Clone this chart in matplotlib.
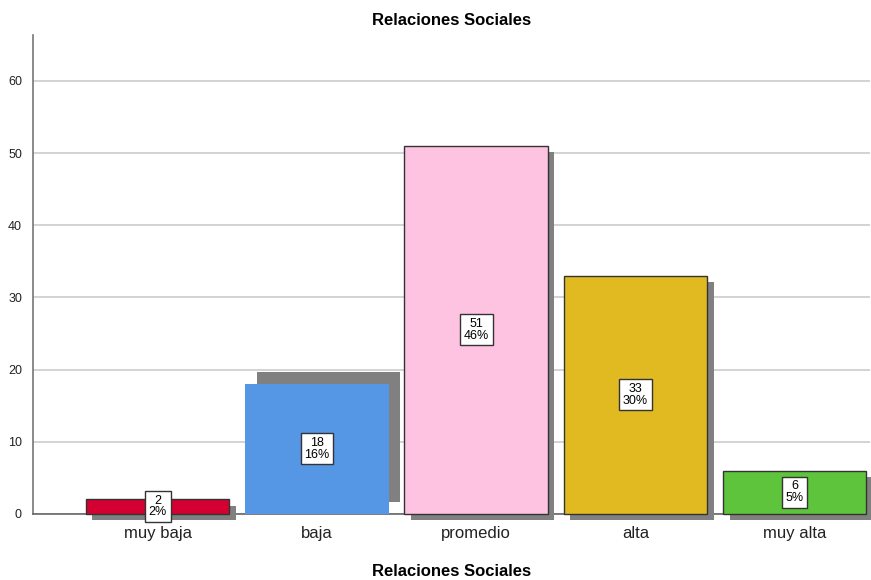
import matplotlib.pyplot as plt
import matplotlib.patheffects as pe

plt.rcParams["font.family"] = ["Liberation Sans", "DejaVu Sans"]

# data
categories = ["muy baja", "baja", "promedio", "alta", "muy alta"]
counts = [2, 18, 51, 33, 6]
percents = ["2%", "16%", "46%", "30%", "5%"]
colors = ["#d50032", "#5596e5", "#fdc3e1", "#e0ba20", "#5ec43b"]
edges = ["#333333", "none", "#333333", "#333333", "#333333"]
# shadow offsets in points (the "baja" shadow sits up-right in the original)
shadow_offsets = [(4.7, -4.7), (8.6, 8.6), (4.7, -4.7), (4.7, -4.7), (4.7, -4.7)]

fig = plt.figure(figsize=(8.71, 5.80), dpi=100)
ax = fig.add_axes([0.038, 0.114, 0.961, 0.826])

x = range(len(categories))
for i in x:
    bar = ax.bar(i, counts[i], width=0.9, color=colors[i], edgecolor=edges[i],
                 linewidth=1.0, zorder=3, clip_on=False)[0]
    bar.set_path_effects([
        pe.SimplePatchShadow(offset=shadow_offsets[i], shadow_rgbFace="#808080",
                             alpha=1.0),
        pe.Normal(),
    ])
    ax.text(i, counts[i] / 2, f"{counts[i]}\n{percents[i]}", ha="center",
            va="center", fontsize=9, linespacing=0.95, zorder=5,
            bbox=dict(boxstyle="square,pad=0.3", facecolor="white",
                      edgecolor="#333333", linewidth=1.0))

ax.set_xlim(-0.782, 4.474)
ax.set_ylim(0, 66.4)
ax.set_yticks([0, 10, 20, 30, 40, 50, 60])
ax.set_xticks(list(x))
ax.set_xticklabels(categories, fontsize=12, color="#222222")
ax.tick_params(axis="y", labelsize=9, length=0, pad=8, labelcolor="#222222")
ax.tick_params(axis="x", length=0, pad=9)

ax.yaxis.grid(True, color="#cccccc", linewidth=1.2, zorder=0)
ax.set_axisbelow(True)
for side in ["top", "right"]:
    ax.spines[side].set_visible(False)
ax.spines["left"].set_color("#777777")
ax.spines["bottom"].set_color("#666666")
ax.spines["left"].set_linewidth(1.2)
ax.spines["bottom"].set_linewidth(1.2)

ax.set_title("Relaciones Sociales", fontsize=12, fontweight="bold", pad=7)
ax.set_xlabel("Relaciones Sociales", fontsize=12, fontweight="bold", labelpad=16)

fig.savefig("out.png", dpi=100)
